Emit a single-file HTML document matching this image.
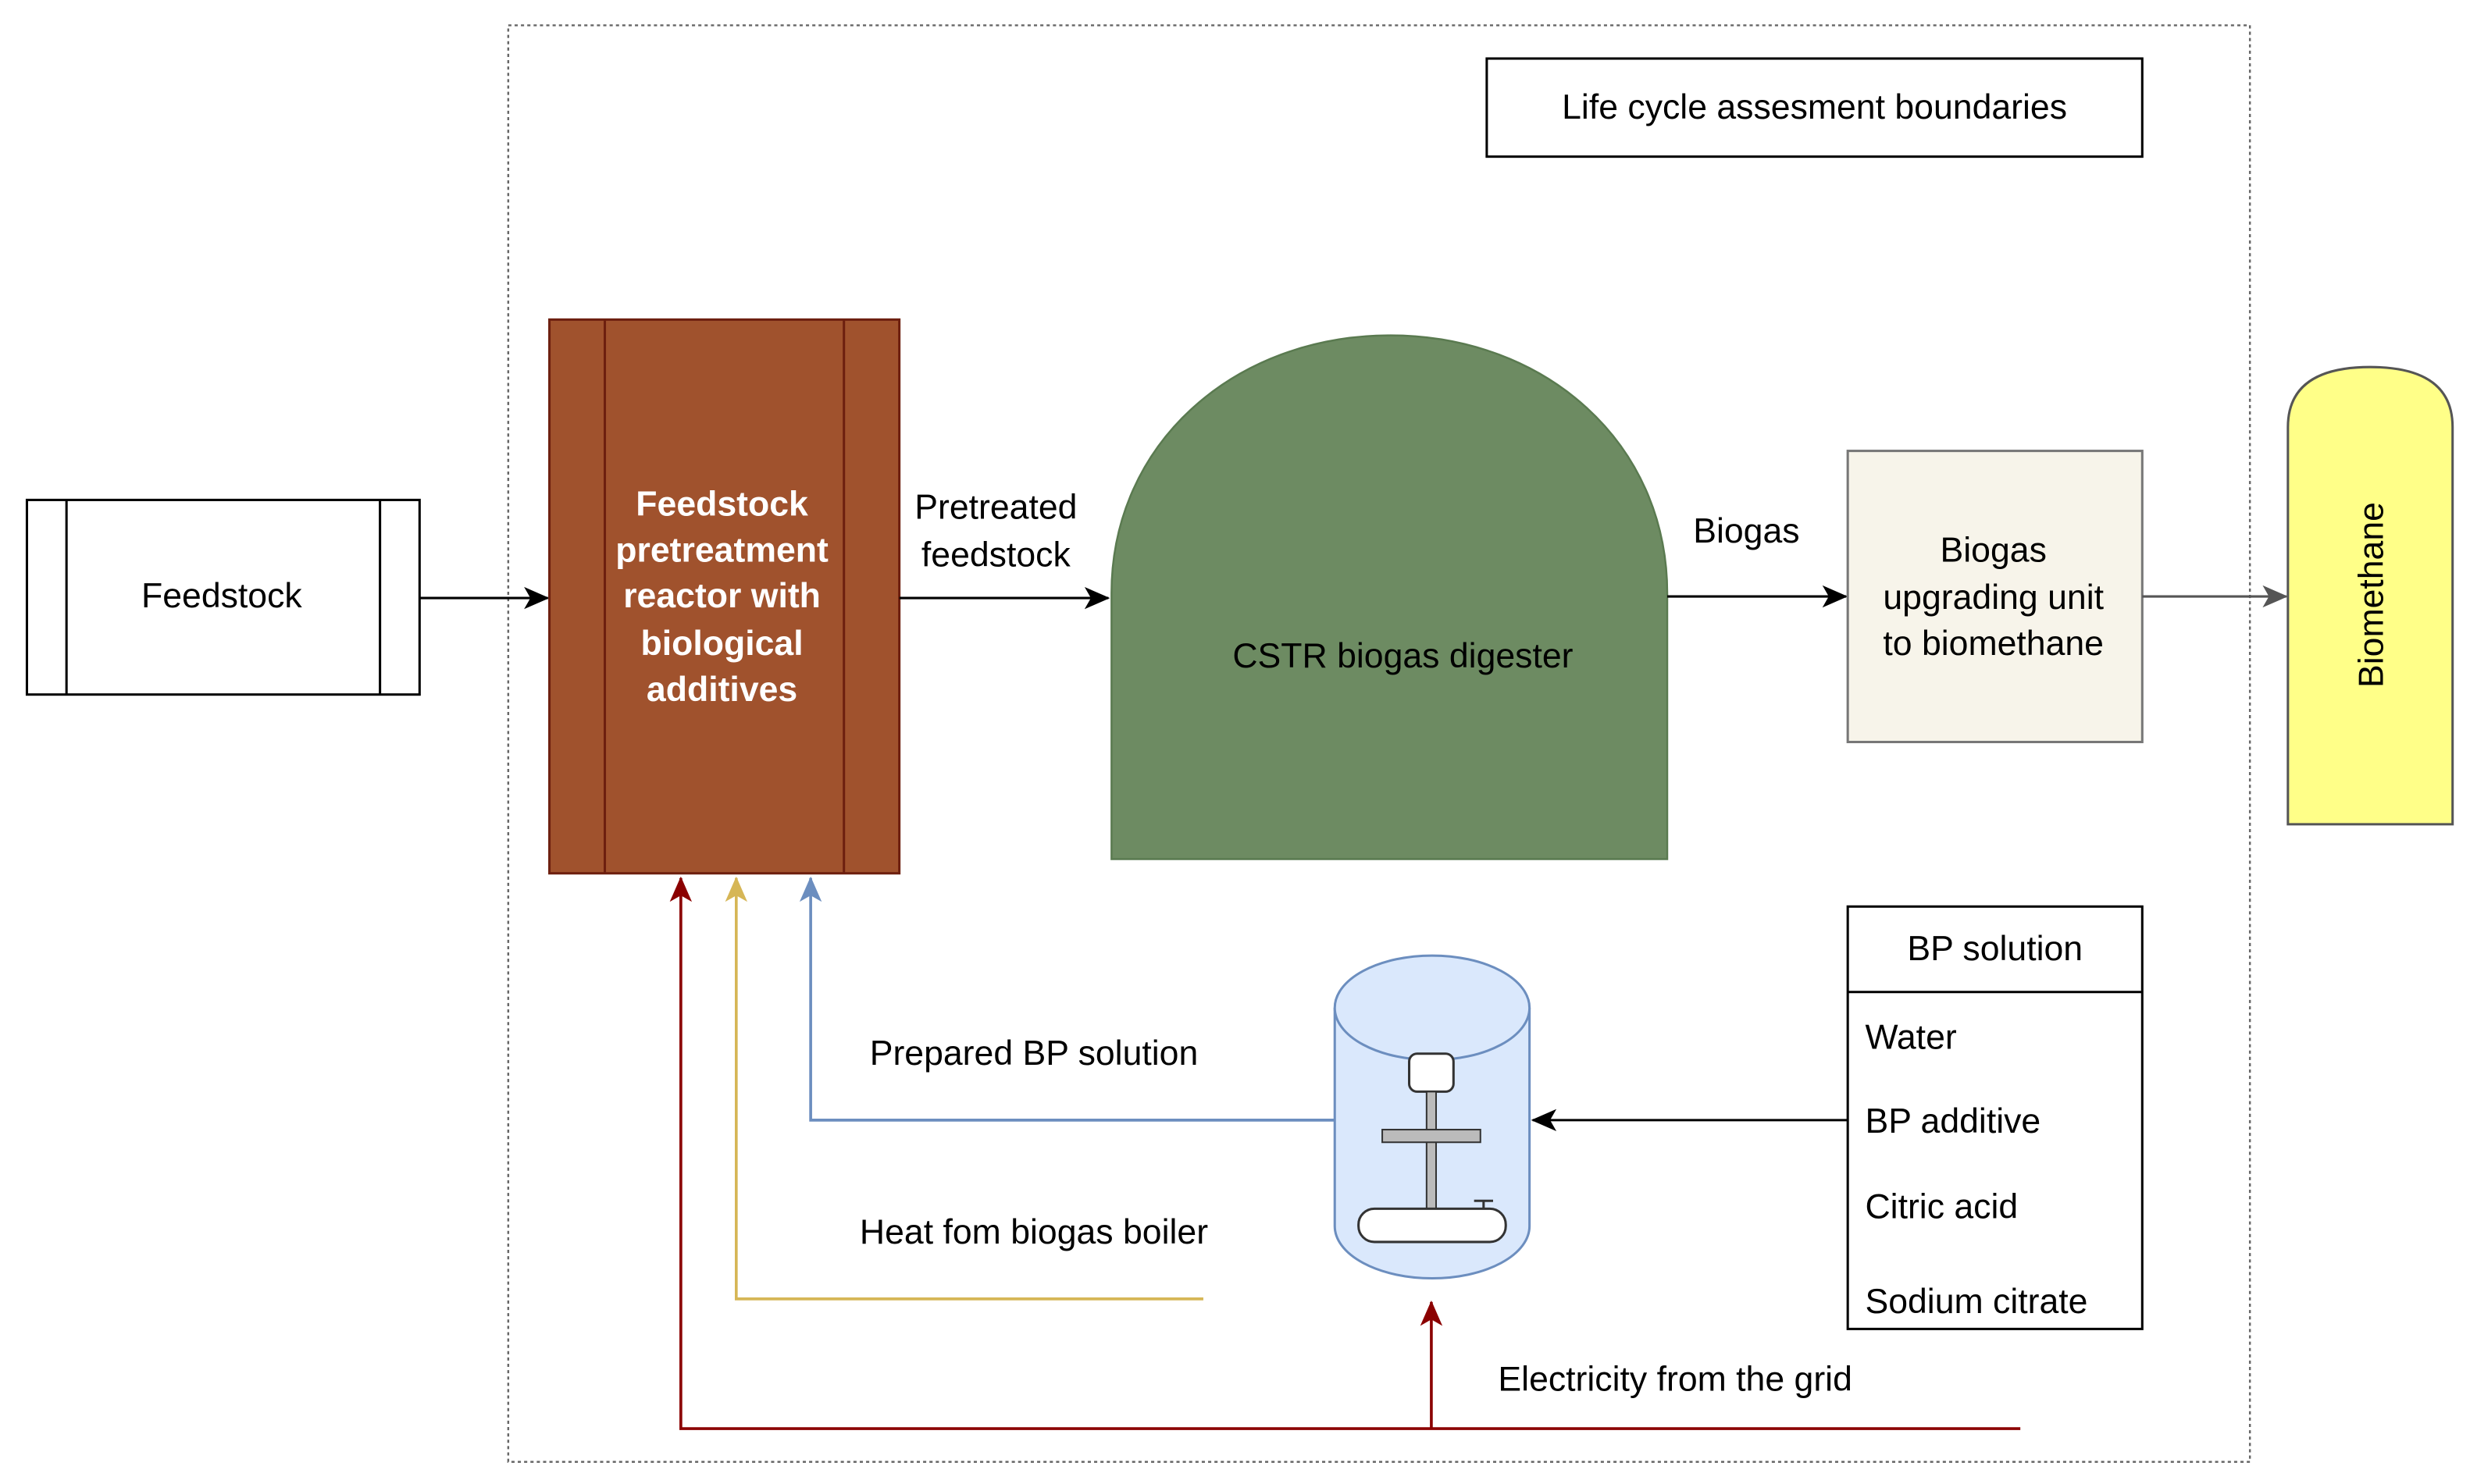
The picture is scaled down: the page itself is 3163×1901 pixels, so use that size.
<!DOCTYPE html>
<html><head><meta charset="utf-8"><style>
html,body{margin:0;padding:0;background:#fff;}
svg{display:block;}
text{font-family:"Liberation Sans",Arial,sans-serif;}
</style></head><body>
<svg width="3163" height="1901" viewBox="0 0 1560 938" preserveAspectRatio="none" xmlns="http://www.w3.org/2000/svg">
<defs>
<marker id="ab" markerWidth="16" markerHeight="16" refX="15" refY="8" orient="auto" markerUnits="userSpaceOnUse"><path d="M0,1 L16,8 L0,15 L4,8 Z" fill="#000"/></marker>
<marker id="ag" markerWidth="16" markerHeight="16" refX="15" refY="8" orient="auto" markerUnits="userSpaceOnUse"><path d="M0,1 L16,8 L0,15 L4,8 Z" fill="#555"/></marker>
<marker id="ar" markerWidth="16" markerHeight="16" refX="15" refY="8" orient="auto" markerUnits="userSpaceOnUse"><path d="M0,1 L16,8 L0,15 L4,8 Z" fill="#8b0000"/></marker>
<marker id="ay" markerWidth="16" markerHeight="16" refX="15" refY="8" orient="auto" markerUnits="userSpaceOnUse"><path d="M0,1 L16,8 L0,15 L4,8 Z" fill="#d6b656"/></marker>
<marker id="al" markerWidth="16" markerHeight="16" refX="15" refY="8" orient="auto" markerUnits="userSpaceOnUse"><path d="M0,1 L16,8 L0,15 L4,8 Z" fill="#6c8ebf"/></marker>
</defs>
<rect x="321" y="16" width="1100" height="908" fill="none" stroke="#666" stroke-width="1.2" stroke-dasharray="2,2"/>
<rect x="939" y="37" width="414" height="62" fill="#fff" stroke="#000" stroke-width="1.5"/>
<text x="1146" y="75" font-size="22" text-anchor="middle">Life cycle assesment  boundaries</text>

<rect x="17" y="316" width="248" height="123" fill="#fff" stroke="#000" stroke-width="1.5"/>
<line x1="42" y1="316" x2="42" y2="439" stroke="#000" stroke-width="1.5"/>
<line x1="240" y1="316" x2="240" y2="439" stroke="#000" stroke-width="1.5"/>
<text x="140" y="384" font-size="22" text-anchor="middle">Feedstock</text>
<line x1="265" y1="378" x2="346" y2="378" stroke="#000" stroke-width="1.5" marker-end="url(#ab)"/>

<rect x="347" y="202" width="221" height="350" fill="#a0522d" stroke="#6d1f0f" stroke-width="1.5"/>
<line x1="382" y1="202" x2="382" y2="552" stroke="#6d1f0f" stroke-width="1.5"/>
<line x1="533" y1="202" x2="533" y2="552" stroke="#6d1f0f" stroke-width="1.5"/>
<g font-size="22" font-weight="bold" fill="#fff" text-anchor="middle">
<text x="456" y="326">Feedstock</text>
<text x="456" y="355">pretreatment</text>
<text x="456" y="384">reactor with</text>
<text x="456" y="414">biological</text>
<text x="456" y="443">additives</text>
</g>
<line x1="568" y1="378" x2="700" y2="378" stroke="#000" stroke-width="1.5" marker-end="url(#ab)"/>
<text x="629" y="328" font-size="22" text-anchor="middle">Pretreated</text>
<text x="629" y="358" font-size="22" text-anchor="middle">feedstock</text>

<path d="M702,543 L702,375 C702,280 780,212 878,212 C976,212 1053,280 1053,375 L1053,543 Z" fill="#6d8b62" stroke="#5a7a50" stroke-width="1.2"/>
<text x="886" y="422" font-size="22" text-anchor="middle">CSTR biogas digester</text>
<line x1="1053" y1="377" x2="1166" y2="377" stroke="#000" stroke-width="1.5" marker-end="url(#ab)"/>
<text x="1103" y="343" font-size="22" text-anchor="middle">Biogas</text>

<rect x="1167" y="285" width="186" height="184" fill="#f7f4ea" stroke="#777" stroke-width="1.5"/>
<g font-size="22" text-anchor="middle"><text x="1259" y="355">Biogas</text><text x="1259" y="385">upgrading unit</text><text x="1259" y="414">to biomethane</text></g>
<line x1="1353" y1="377" x2="1444" y2="377" stroke="#555" stroke-width="1.5" marker-end="url(#ag)"/>

<path d="M1445,521 L1445,270 Q1445,232 1497,232 Q1549,232 1549,270 L1549,521 Z" fill="#ffff88" stroke="#555" stroke-width="1.5"/>
<text x="0" y="0" font-size="22" text-anchor="middle" transform="translate(1505,376) rotate(-90)">Biomethane</text>

<rect x="1167" y="573" width="186" height="267" fill="#fff" stroke="#000" stroke-width="1.5"/>
<line x1="1167" y1="627" x2="1353" y2="627" stroke="#000" stroke-width="1.5"/>
<text x="1260" y="607" font-size="22" text-anchor="middle">BP solution</text>
<g font-size="22"><text x="1178" y="663">Water</text><text x="1178" y="716">BP additive</text><text x="1178" y="770">Citric acid</text><text x="1178" y="830">Sodium citrate</text></g>
<line x1="1167" y1="708" x2="968" y2="708" stroke="#000" stroke-width="1.5" marker-end="url(#ab)"/>

<path d="M843,637 L843,775 A61.5,33 0 0 0 966,775 L966,637" fill="#dae8fc" stroke="#6c8ebf" stroke-width="1.5"/>
<ellipse cx="904.5" cy="637" rx="61.5" ry="33" fill="#dae8fc" stroke="#6c8ebf" stroke-width="1.5"/>
<rect x="890" y="666" width="28" height="24" rx="5" fill="#fff" stroke="#333" stroke-width="1.5"/>
<rect x="901" y="690" width="6" height="75" fill="#bbb" stroke="#333" stroke-width="1"/>
<rect x="873" y="714" width="62" height="8" fill="#bbb" stroke="#333" stroke-width="1"/>
<rect x="858" y="764" width="93" height="21" rx="10" fill="#fff" stroke="#333" stroke-width="1.5"/>
<path d="M937,764 L937,759 M931,759 L943,759" stroke="#333" stroke-width="1.5"/>

<polyline points="843,708 512,708 512,555" fill="none" stroke="#6c8ebf" stroke-width="1.8" marker-end="url(#al)"/>
<text x="653" y="673" font-size="22" text-anchor="middle">Prepared BP solution</text>
<polyline points="760,821 465,821 465,555" fill="none" stroke="#d6b656" stroke-width="1.8" marker-end="url(#ay)"/>
<text x="653" y="786" font-size="22" text-anchor="middle">Heat fom biogas boiler</text>
<polyline points="1276,903 430,903 430,555" fill="none" stroke="#8b0000" stroke-width="1.8" marker-end="url(#ar)"/>
<line x1="904" y1="903" x2="904" y2="823" stroke="#8b0000" stroke-width="1.8" marker-end="url(#ar)"/>
<text x="1058" y="879" font-size="22" text-anchor="middle">Electricity from the grid</text>
</svg>
</body></html>
